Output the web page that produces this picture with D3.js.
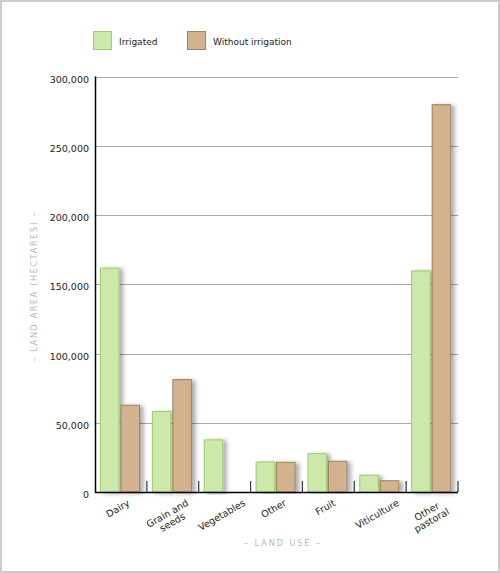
<!DOCTYPE html>
<html>
<head>
  <meta charset="UTF-8">
  <style>
    body { margin: 0; background: #fff; }
    svg { display: block; font-family: "DejaVu Sans", Verdana, sans-serif; }
  </style>
</head>
<body>
<svg></svg>
<script src="https://d3js.org/d3.v7.min.js"></script>
<script>
let width = 500, height = 573;

// data
let categories = ["Dairy", "Grain and seeds", "Vegetables", "Other", "Fruit", "Viticulture", "Other pastoral"];
let labelLines = [["Dairy"], ["Grain and", "seeds"], ["Vegetables"], ["Other"], ["Fruit"], ["Viticulture"], ["Other", "pastoral"]];
let seriesNames = ["Irrigated", "Without irrigation"];
let irrigated = [162000, 58500, 38000, 22000, 28000, 12500, 160000];
let withoutIrrigation = [63000, 81500, 0, 21800, 22500, 8500, 280000];
let yTicks = [0, 50000, 100000, 150000, 200000, 250000, 300000];

let fills = ["#cce8aa", "#d3b28e"];
let strokes = ["#9ccd6b", "#9e8262"];

let margin = {top: 76.5, left: 95, right: 42, bottom: 81};

let svg = d3.select("svg")
    .attr("width", width)
    .attr("height", height);

// shadow for bars
let defs = svg.append("defs");
defs.append("filter")
    .attr("id", "shadow")
    .attr("x", "-20%").attr("y", "-5%")
    .attr("width", "170%").attr("height", "110%")
  .append("feDropShadow")
    .attr("dx", 3.5).attr("dy", 1)
    .attr("stdDeviation", 2)
    .attr("flood-color", "#000")
    .attr("flood-opacity", 0.33);

// outer frame
svg.append("rect")
    .attr("x", 1).attr("y", 1)
    .attr("width", width - 2).attr("height", height - 2)
    .attr("fill", "#fff")
    .attr("stroke", "#cccccc")
    .attr("stroke-width", 2);

let x0 = d3.scaleBand()
    .domain(categories)
    .range([margin.left, width - margin.right]);

let x1 = d3.scaleBand()
    .domain(seriesNames)
    .range([5, 45])
    .paddingInner(0.05);

let y = d3.scaleLinear()
    .domain([0, 300000])
    .range([height - margin.bottom, margin.top]);

// gridlines
svg.append("g")
    .selectAll("line")
    .data(yTicks.slice(1))
    .enter()
    .append("line")
    .attr("x1", margin.left)
    .attr("x2", width - margin.right)
    .attr("y1", d => Math.round(y(d)) + 0.5)
    .attr("y2", d => Math.round(y(d)) + 0.5)
    .attr("stroke", "#a8a8a8")
    .attr("stroke-width", 1);

// y axis labels
let yAxis = svg.append("g")
    .attr("transform", "translate(" + margin.left + ",0)")
    .call(d3.axisLeft(y).tickValues(yTicks).tickSize(0).tickFormat(d3.format(",")));
yAxis.select(".domain").remove();
yAxis.selectAll("text")
    .attr("font-family", "DejaVu Sans, Verdana, sans-serif")
    .attr("font-size", "9.5px")
    .attr("fill", "#222")
    .attr("x", -6)
    .attr("dy", "0.6em");

// bars
let series = [irrigated, withoutIrrigation];
let groups = svg.append("g")
    .selectAll("g")
    .data(categories)
    .enter()
    .append("g")
    .attr("transform", d => "translate(" + x0(d) + ",0)");

groups.selectAll("rect")
    .data((d, i) => seriesNames.map((s, j) => ({series: s, j: j, value: series[j][i]})))
    .enter()
    .filter(d => d.value > 0)
    .append("rect")
    .attr("x", d => x1(d.series) + 0.5)
    .attr("y", d => y(d.value) + 0.5)
    .attr("width", x1.bandwidth() - 1)
    .attr("height", d => y(0) - y(d.value) - 0.5)
    .attr("fill", d => fills[d.j])
    .attr("stroke", d => strokes[d.j])
    .attr("stroke-width", 1)
    .attr("filter", "url(#shadow)");

// axes lines
svg.append("line")
    .attr("x1", margin.left + 0.5).attr("x2", margin.left + 0.5)
    .attr("y1", margin.top).attr("y2", y(0) + 1)
    .attr("stroke", "#000").attr("stroke-width", 1.5);
svg.append("line")
    .attr("x1", margin.left).attr("x2", width - margin.right)
    .attr("y1", y(0) + 0.5).attr("y2", y(0) + 0.5)
    .attr("stroke", "#000").attr("stroke-width", 1.5);

// category separator ticks
svg.append("g")
    .selectAll("line")
    .data(categories)
    .enter()
    .append("line")
    .attr("x1", d => x0(d) + x0.bandwidth())
    .attr("x2", d => x0(d) + x0.bandwidth())
    .attr("y1", y(0) - 11)
    .attr("y2", y(0))
    .attr("stroke", "#333")
    .attr("stroke-width", 1.2);

// category labels, rotated, box centred under the group, top at fixed y
let labelTop = 497;
let labelG = svg.append("g")
    .selectAll("g")
    .data(categories)
    .enter()
    .append("g");

let labels = labelG.append("text")
    .attr("transform", "rotate(-30)")
    .attr("text-anchor", "middle")
    .attr("font-size", "9.5px")
    .attr("fill", "#222");

labels.selectAll("tspan")
    .data((d, i) => labelLines[i].map((t, k) => ({t: t, k: k})))
    .enter()
    .append("tspan")
    .attr("x", 0)
    .attr("dy", d => d.k === 0 ? 0 : "1.05em")
    .text(d => d.t);

labelG.each(function(d) {
    let r = this.getBoundingClientRect();
    let cx = x0(d) + x0.bandwidth() / 2 - 3;
    let dx = cx - (r.left + r.width / 2);
    let dy = labelTop - r.top;
    d3.select(this).attr("transform", "translate(" + dx + "," + dy + ")");
});

// axis titles
svg.append("text")
    .attr("x", 283)
    .attr("y", 546)
    .attr("text-anchor", "middle")
    .attr("font-size", "8px")
    .attr("letter-spacing", "2px")
    .attr("fill", "#b8b8b8")
    .text("– LAND USE –");

svg.append("text")
    .attr("transform", "translate(37,286) rotate(-90)")
    .attr("text-anchor", "middle")
    .attr("font-size", "8px")
    .attr("letter-spacing", "1.7px")
    .attr("fill", "#b8b8b8")
    .text("– LAND AREA  (HECTARES) –");

// legend
let legendX = [93, 187];
let legend = svg.append("g")
    .selectAll("g")
    .data(seriesNames)
    .enter()
    .append("g")
    .attr("transform", (d, i) => "translate(" + legendX[i] + ",31)");

legend.append("rect")
    .attr("x", 0.5).attr("y", 0.5)
    .attr("width", 18).attr("height", 18)
    .attr("fill", (d, i) => fills[i])
    .attr("stroke", (d, i) => strokes[i]);

legend.append("text")
    .attr("x", 26)
    .attr("y", 13.5)
    .attr("font-size", "9px")
    .attr("fill", "#222")
    .text(d => d);
</script>
</body>
</html>
